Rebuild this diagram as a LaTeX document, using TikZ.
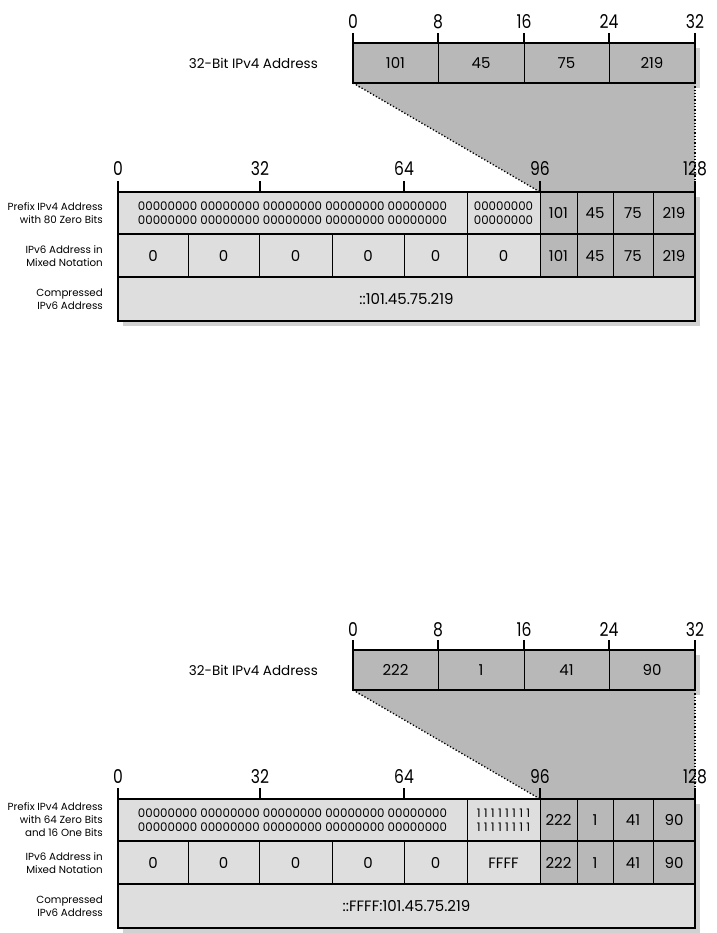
\documentclass[tikz,border=0pt]{standalone}
\usepackage{fontspec}
\setmainfont{Poppins}
\newfontfamily\numfont[FakeStretch=0.82]{Poppins}
\definecolor{fieldgray}{gray}{0.72}
\definecolor{cellgray}{gray}{0.87}
\definecolor{shadowgray}{gray}{0.82}
\tikzset{
  border/.style={line width=1.6pt},
  rowline/.style={line width=1.1pt},
  divider/.style={line width=0.6pt},
  mapline/.style={dotted,line width=1.3pt},
  bitnum/.style={anchor=base,inner sep=0pt,font=\numfont\fontsize{19}{19}\selectfont},
  rowlabel/.style={anchor=east,align=right,inner sep=0pt,font=\fontsize{10.3}{13}\selectfont},
  v4label/.style={anchor=east,inner sep=0pt,font=\fontsize{13.5}{15}\selectfont},
  cell/.style={inner sep=0pt,font=\fontsize{15}{16}\selectfont},
  bits/.style={inner sep=0pt,align=center,font=\fontsize{11.8}{13.5}\selectfont},
}
\newcommand{\ones}{\foreach \k in {1,...,8}{\makebox[0.6em]{1}}}
% #1 shift, #2 name, #3 prefix label, #4 pad bits, #5 pad group, #6 compressed form
\newcommand{\mapping}[6]{%
\begin{scope}[yshift=-#1pt]
  % 32-bit address and its projection
  \fill[shadowgray](358,48)rectangle(700,88);
  \coordinate(#2-v4sw) at (353,83);
  \coordinate(#2-v4se) at (695,83);
  \coordinate(#2-t96) at (540,192);
  \coordinate(#2-t128) at (695,181);
  \fill[fieldgray](#2-v4sw)--(#2-v4se)--(695,192)--(#2-t96)--cycle;
  \draw[mapline](#2-v4sw)--(#2-t96);
  \draw[mapline](#2-v4se)--(#2-t128);
  \fill[fieldgray](353,43)rectangle(695,83);
  \foreach \x in {438,524,609}
    \draw[divider](\x,43)--(\x,83);
  \draw[border](353,43)rectangle(695,83);
  \foreach \x/\n in {353/0,438/8,524/16,609/24,695/32}{
    \draw[border](\x,33)--(\x,43);
    \node[bitnum](#2-v4n\n) at (\x,29){\n};}
  \node[v4label](#2-v4lab) at (318,63){32-Bit IPv4 Address};
  % IPv6 address
  \fill[shadowgray](123,197)rectangle(700,326);
  \fill[cellgray](118,192)rectangle(695,321);
  \fill[fieldgray](540,192)rectangle(695,277);
  \foreach \x in {467,540,577,613,653}
    \draw[divider](\x,192)--(\x,277);
  \foreach \x in {188,259,332,404}
    \draw[divider](\x,234)--(\x,277);
  \draw[rowline](118,234)--(695,234);
  \draw[rowline](118,277)--(695,277);
  \draw[border](118,192)rectangle(695,321);
  \foreach \x/\n in {118/0,260/32,404/64,540/96,695/128}{
    \draw[border](\x,181)--(\x,192);
    \node[bitnum](#2-v6n\n) at (\x,176){\n};}
  \node[rowlabel](#2-lab1) at (103,213){#3};
  \node[rowlabel](#2-lab2) at (103,256){IPv6 Address in\\Mixed Notation};
  \node[rowlabel](#2-lab3) at (103,299){Compressed\\IPv6 Address};
  \node[bits](#2-zeros) at (292.5,213){00000000 00000000 00000000 00000000 00000000\\00000000 00000000 00000000 00000000 00000000};
  \node[bits](#2-pad) at (503.5,213){#4\\#4};
  \foreach \x [count=\i] in {153,223.5,295.5,368,435.5}
    \node[cell](#2-g\i) at (\x,256){0};
  \node[cell](#2-g6) at (503.5,256){#5};
  \node[cell](#2-comp) at (406.5,299){#6};
\end{scope}}
\newcommand{\bytes}[5]{%
  \foreach \b/\x/\u [count=\i] in {#2/395.5/558.5,#3/481/595,#4/566.5/633,#5/652/674}{
    \node[cell](#1-v4b\i) at (\x,63){\b};
    \node[cell](#1-p\i) at (\u,213){\b};
    \node[cell](#1-m\i) at (\u,256){\b};}}
\begin{document}
\begin{tikzpicture}[x=1pt,y=-1pt]
\useasboundingbox(0,0)rectangle(716,933);
\mapping{0}{top}{Prefix IPv4 Address\\with 80 Zero Bits}{00000000}{0}{::101.45.75.219}
\bytes{top}{101}{45}{75}{219}
\mapping{607}{bot}{Prefix IPv4 Address\\with 64 Zero Bits\\and 16 One Bits}{\ones}{FFFF}{::FFFF:101.45.75.219}
\begin{scope}[yshift=-607pt]
\bytes{bot}{222}{1}{41}{90}
\end{scope}
\end{tikzpicture}
\end{document}
